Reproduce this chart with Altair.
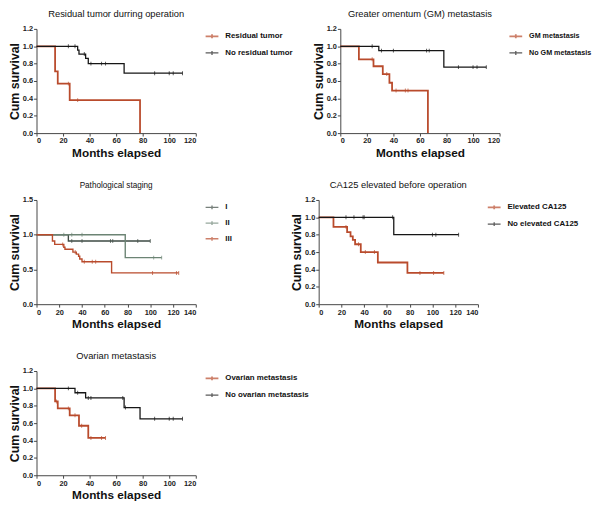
import altair as alt
import pandas as pd

FONT = "Liberation Sans"
RED = "#b94b2c"
BLK = "#161616"

# ---------------- data ----------------
# Panel 1: Residual tumor durring operation
p1_names = ["Residual tumor", "No residual tumor"]
p1_res_t = [0, 14, 16, 25, 78]
p1_res_s = [1.0, 0.71, 0.57, 0.38, 0.0]
p1_res_c = [24, 31]
p1_nores_t = [0, 31, 32, 37, 39, 66, 110]
p1_nores_s = [1.0, 0.955, 0.91, 0.86, 0.80, 0.69, 0.69]
p1_nores_c = [24, 29, 36, 41, 49, 52, 89, 100, 103, 110]

# Panel 2: Greater omentum (GM) metastasis
p2_names = ["GM metastasis", "No GM metastasis"]
p2_gm_t = [0, 14, 25, 32, 37, 39, 66]
p2_gm_s = [1.0, 0.85, 0.77, 0.68, 0.58, 0.49, 0.0]
p2_gm_c = [24, 35, 42, 49, 51]
p2_nogm_t = [0, 29, 78, 110]
p2_nogm_s = [1.0, 0.95, 0.76, 0.76]
p2_nogm_c = [24, 31, 40, 65, 67, 89, 100, 103, 110]

# Panel 3: Pathological staging
p3_names = ["I", "II", "III"]
p3_i_t = [0, 28, 100]
p3_i_s = [1.0, 0.91, 0.91]
p3_i_c = [31, 40, 65, 67, 89, 100]
p3_ii_t = [0, 78, 110]
p3_ii_s = [1.0, 0.67, 0.67]
p3_ii_c = [24, 31, 40, 103, 110]
p3_iii_t = [0, 14, 16, 24, 25, 32, 35, 37, 38, 40, 66, 125]
p3_iii_s = [1.0, 0.91, 0.86, 0.82, 0.79, 0.75, 0.72, 0.69, 0.65, 0.61, 0.45, 0.45]
p3_iii_c = [23, 34, 42, 49, 52, 102, 123, 125]

# Panel 4: CA125 elevated before operation
p4_names = ["Elevated CA125", "No elevated CA125"]
p4_el_t = [0, 13, 25, 28, 30, 32, 37, 52, 78, 110]
p4_el_s = [1.0, 0.89, 0.83, 0.78, 0.74, 0.69, 0.60, 0.48, 0.36, 0.36]
p4_el_c = [24, 35, 41, 49, 89, 101, 110]
p4_noel_t = [0, 66, 123]
p4_noel_s = [1.0, 0.80, 0.80]
p4_noel_c = [24, 31, 39, 40, 65, 100, 103, 123]

# Panel 5: Ovarian metastasis
p5_names = ["Ovarian metastasis", "No ovarian metastasis"]
p5_ov_t = [0, 14, 16, 25, 32, 39, 52]
p5_ov_s = [1.0, 0.85, 0.77, 0.69, 0.57, 0.43, 0.43]
p5_ov_c = [15, 24, 29, 34, 41, 49, 52]
p5_noov_t = [0, 29, 37, 66, 78, 110]
p5_noov_s = [1.0, 0.95, 0.89, 0.78, 0.65, 0.65]
p5_noov_c = [24, 31, 39, 41, 65, 67, 89, 100, 103, 110]


def surv_at(ts, ss, c):
    v = ss[0]
    for ti, si in zip(ts, ss):
        if ti <= c:
            v = si
    return v


def frames(groups):
    lines, cens = [], []
    for name, ts, ss, cs in groups:
        for ti, si in zip(ts, ss):
            lines.append({"group": name, "t": ti, "s": si})
        for c in cs:
            cens.append({"group": name, "t": c, "s": surv_at(ts, ss, c)})
    return pd.DataFrame(lines), pd.DataFrame(cens)


def panel(title, groups, colors, widths, xmax, ymax, yvals, title_size=9.5,
          legend_font=8):
    names = [g[0] for g in groups]
    lines, cens = frames(groups)
    x = alt.X("t:Q", scale=alt.Scale(domain=[0, xmax], nice=False, zero=True),
              axis=alt.Axis(values=list(range(0, xmax + 1, 20)), title="Months elapsed",
                            format="d"))
    y = alt.Y("s:Q", scale=alt.Scale(domain=[0, ymax], nice=False),
              axis=alt.Axis(values=yvals, title="Cum survival", format=".1f"))
    color = alt.Color("group:N", scale=alt.Scale(domain=names, range=colors),
                      legend=alt.Legend(title=None, orient="right", offset=9, padding=0,
                                        symbolType="M-1,0H1M0,-0.3V0.3",
                                        symbolSize=169, symbolStrokeWidth=1.5,
                                        labelFontSize=legend_font, labelFont=FONT,
                                        labelFontWeight="bold", labelColor="#111",
                                        labelOffset=6, rowPadding=3,
                                        labelLimit=200))
    sw = alt.StrokeWidth("group:N", scale=alt.Scale(domain=names, range=widths),
                         legend=None)
    line = alt.Chart(lines).mark_line(interpolate="step-after").encode(
        x=x, y=y, color=color, strokeWidth=sw)
    ticks = alt.Chart(cens).mark_tick(orient="vertical", size=4, thickness=1).encode(
        x=x, y=y, color=color)
    return (line + ticks).properties(
        width=162, height=106,
        title=alt.TitleParams(title, fontSize=title_size, font=FONT, fontWeight="normal",
                              color="#111", anchor="middle", offset=7))


p1 = panel("Residual tumor durring operation",
           [(p1_names[0], p1_res_t, p1_res_s, p1_res_c),
            (p1_names[1], p1_nores_t, p1_nores_s, p1_nores_c)],
           [RED, BLK], [1.8, 1.3], 120, 1.2, [0, 0.2, 0.4, 0.6, 0.8, 1.0, 1.2])
p2 = panel("Greater omentum (GM) metastasis",
           [(p2_names[0], p2_gm_t, p2_gm_s, p2_gm_c),
            (p2_names[1], p2_nogm_t, p2_nogm_s, p2_nogm_c)],
           [RED, BLK], [1.8, 1.3], 120, 1.2, [0, 0.2, 0.4, 0.6, 0.8, 1.0, 1.2],
           legend_font=7.3)
p3 = panel("Pathological staging",
           [(p3_names[0], p3_i_t, p3_i_s, p3_i_c),
            (p3_names[1], p3_ii_t, p3_ii_s, p3_ii_c),
            (p3_names[2], p3_iii_t, p3_iii_s, p3_iii_c)],
           ["#3e4b44", "#6c8474", RED], [1.4, 1.4, 1.8], 140, 1.5, [0, 0.5, 1.0, 1.5],
           title_size=8.3)
p4 = panel("CA125 elevated before operation",
           [(p4_names[0], p4_el_t, p4_el_s, p4_el_c),
            (p4_names[1], p4_noel_t, p4_noel_s, p4_noel_c)],
           [RED, BLK], [1.8, 1.3], 140, 1.2, [0, 0.2, 0.4, 0.6, 0.8, 1.0, 1.2])
p5 = panel("Ovarian metastasis",
           [(p5_names[0], p5_ov_t, p5_ov_s, p5_ov_c),
            (p5_names[1], p5_noov_t, p5_noov_s, p5_noov_c)],
           [RED, BLK], [1.8, 1.3], 120, 1.2, [0, 0.2, 0.4, 0.6, 0.8, 1.0, 1.2])


def indep(c):
    return c.resolve_scale(color="independent", strokeWidth="independent").resolve_legend(
        color="independent", strokeWidth="independent")


row1 = indep(alt.hconcat(p1, p2, spacing=19))
row2 = indep(alt.hconcat(p3, p4, spacing=59))
chart = indep(alt.vconcat(row1, row2, p5, spacing=21)).properties(
    padding={"left": 0, "top": -4, "right": 0, "bottom": 0}
).configure_view(stroke=None).configure_axis(
    grid=False, domainColor="#444", tickColor="#444", tickSize=3, domainWidth=1,
    labelFont=FONT, labelFontSize=7.5, labelFontWeight="bold", labelColor="#222",
    labelPadding=1, titleFont=FONT, titleFontWeight="bold", titleColor="#111"
).configure_axisX(titleFontSize=12, titlePadding=3).configure_axisY(
    titleFontSize=12.5, titlePadding=1)

chart.save("out.html", embed_options={"renderer": "svg", "actions": False})
